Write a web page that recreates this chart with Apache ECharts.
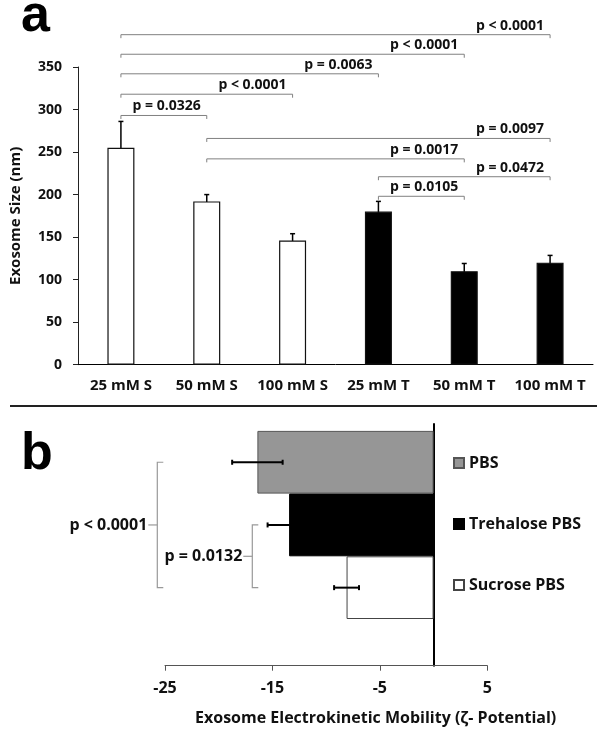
<!DOCTYPE html>
<html><head><meta charset="utf-8">
<script src="https://cdn.jsdelivr.net/npm/echarts@6/dist/echarts.min.js"></script>
<style>html,body{margin:0;padding:0;background:#fff}#c{width:604px;height:736px}</style>
</head><body><div id="c"></div>
<script>
// ---------- Panel a data ----------
const topCategories = ['25 mM S', '50 mM S', '100 mM S', '25 mM T', '50 mM T', '100 mM T'];
const topValues = [255, 192, 146, 180, 110, 120];
const topErrors = [31, 8, 8, 12, 9, 8.5];
const topBracketFrom = [0, 0, 0, 0, 0, 1, 1, 3, 3];
const topBracketTo = [5, 4, 3, 2, 1, 5, 4, 5, 4];
const topBracketLevel = [388, 365, 342, 318, 293, 266, 242, 221, 198];
const topBracketLabels = ['p < 0.0001', 'p < 0.0001', 'p = 0.0063', 'p < 0.0001', 'p = 0.0326',
  'p = 0.0097', 'p = 0.0017', 'p = 0.0472', 'p = 0.0105'];

// ---------- Panel b data ----------
const bottomSeriesNames = ['PBS', 'Trehalose PBS', 'Sucrose PBS'];
const bottomValues = [-16.4, -13.45, -8.1];
const bottomErrors = [2.35, 2.0, 1.16];
const bottomBracketFrom = [0, 1];
const bottomBracketTo = [2, 2];
const bottomBracketLabels = ['p < 0.0001', 'p = 0.0132'];
const bottomTicks = ['-25', '-15', '-5', '5'];

// ---------- styles ----------
const FONT = '"Open Sans", sans-serif';
const TXT = '#111';
const bottomFill = ['#969696', '#000000', '#ffffff'];
const bottomBorder = ['#555555', '#000000', '#444444'];
const bottomBracketX = [157.3, 252.3];

const chart = echarts.init(document.getElementById('c'), null, {renderer: 'canvas'});

const option = {
  animation: false,
  backgroundColor: '#fff',
  grid: [
    {left: 78, top: 67, width: 515, height: 297.7, outerBoundsMode: 'none', containLabel: false},
    {left: 165, top: 424, width: 322.3, height: 241.7, outerBoundsMode: 'none', containLabel: false}
  ],
  xAxis: [
    {type: 'category', gridIndex: 0, data: topCategories,
      axisLine: {show: true, lineStyle: {color: '#000', width: 1}},
      axisTick: {show: false}, splitLine: {show: false},
      axisLabel: {interval: 0, fontFamily: FONT, fontWeight: 'bold', fontSize: 15, color: TXT, margin: 14}},
    {type: 'value', gridIndex: 1, min: -25, max: 5, interval: 10,
      splitLine: {show: false},
      axisLine: {show: true, onZero: false, lineStyle: {color: '#555', width: 1}},
      axisTick: {show: true, length: 5, lineStyle: {color: '#555'}},
      axisLabel: {fontFamily: FONT, fontWeight: 'bold', fontSize: 16, color: TXT, margin: 15,
        formatter: function (v) { const s = String(v); return bottomTicks.indexOf(s) >= 0 ? s : ''; }},
      name: 'Exosome Electrokinetic Mobility (ζ- Potential)', nameLocation: 'middle', nameGap: 45,
      nameTextStyle: {fontFamily: FONT, fontWeight: 'bold', fontSize: 16, color: TXT, padding: [0, 0, 0, 99]}}
  ],
  yAxis: [
    {type: 'value', gridIndex: 0, min: 0, max: 350, interval: 50,
      splitLine: {show: false},
      axisLine: {show: true, lineStyle: {color: '#222', width: 1}},
      axisTick: {show: true, length: 5, lineStyle: {color: '#222'}},
      axisLabel: {fontFamily: FONT, fontWeight: 'bold', fontSize: 14, color: TXT, margin: 16},
      name: 'Exosome Size (nm)', nameLocation: 'middle', nameGap: 55, nameRotate: 90,
      nameTextStyle: {fontFamily: FONT, fontWeight: 'bold', fontSize: 15, color: TXT}},
    {type: 'category', gridIndex: 1, data: [''],
      axisLine: {show: true, onZero: true, lineStyle: {color: '#000', width: 2}},
      axisTick: {show: false}, axisLabel: {show: false}, splitLine: {show: false}}
  ],
  legend: {
    data: bottomSeriesNames, orient: 'vertical', left: 448, top: 450,
    itemWidth: 10, itemHeight: 10, itemGap: 45, icon: 'rect',
    textStyle: {fontFamily: FONT, fontWeight: 'bold', fontSize: 16, color: TXT}
  },
  series: [
    {type: 'bar', xAxisIndex: 0, yAxisIndex: 0, barWidth: 27,
      data: topValues.map((v, i) => ({value: v,
        itemStyle: {color: topCategories[i].slice(-1) === 'T' ? '#000' : '#fff'}})),
      itemStyle: {borderColor: '#111', borderWidth: 1.2}},
    {type: 'custom', xAxisIndex: 0, yAxisIndex: 0, clip: false,
      data: topValues.map((v, i) => [i, v, topErrors[i]]),
      encode: {x: 0, y: 1},
      renderItem: function (params, api) {
        const i = api.value(0), v = api.value(1), e = api.value(2);
        const hi = api.coord([i, v + e]);
        const lo = api.coord([i, v - e]);
        const st = {stroke: '#000', lineWidth: 1.5};
        return {type: 'group', children: [
          {type: 'line', shape: {x1: hi[0], y1: hi[1], x2: lo[0], y2: lo[1]}, style: st},
          {type: 'line', shape: {x1: hi[0] - 2.5, y1: hi[1], x2: hi[0] + 2.5, y2: hi[1]}, style: st},
          {type: 'line', shape: {x1: lo[0] - 2.5, y1: lo[1], x2: lo[0] + 2.5, y2: lo[1]}, style: st}
        ]};
      }},
    {type: 'custom', xAxisIndex: 0, yAxisIndex: 0, clip: false,
      data: topBracketFrom.map((f, k) => [f, topBracketTo[k], topBracketLevel[k], k]),
      encode: {x: [0, 1], y: 2},
      renderItem: function (params, api) {
        const p1 = api.coord([api.value(0), api.value(2)]);
        const p2 = api.coord([api.value(1), api.value(2)]);
        const k = api.value(3);
        return {type: 'group', children: [
          {type: 'polyline', shape: {points: [[p1[0], p1[1] + 3.5], [p1[0], p1[1]], [p2[0], p2[1]], [p2[0], p2[1] + 3.5]]},
            style: {stroke: '#808080', lineWidth: 1, fill: null}},
          {type: 'text', x: p2[0] - 6, y: p2[1] - 9,
            style: {text: topBracketLabels[k], font: 'bold 14px ' + FONT, fill: TXT, align: 'right', verticalAlign: 'middle'}}
        ]};
      }},
    ...bottomSeriesNames.map((n, i) => ({
      type: 'bar', name: n, xAxisIndex: 1, yAxisIndex: 1, data: [bottomValues[i]],
      barWidth: 62.7, barGap: '0%',
      itemStyle: {color: bottomFill[i], borderColor: bottomBorder[i], borderWidth: 1}
    })),
    {type: 'bar', name: 'spacer', xAxisIndex: 1, yAxisIndex: 1, data: [null], barWidth: 39.8, barGap: '0%', silent: true}
  ],
  graphic: [
    {type: 'text', x: 21, y: 17, style: {text: 'a', font: 'bold 52px "Liberation Sans", Arial, sans-serif', fill: '#000', verticalAlign: 'middle'}},
    {type: 'text', x: 21, y: 454.7, style: {text: 'b', font: 'bold 52px "Liberation Sans", Arial, sans-serif', fill: '#000', verticalAlign: 'middle'}},
    {type: 'line', shape: {x1: 10, y1: 406, x2: 597, y2: 406}, style: {stroke: '#222', lineWidth: 2}}
  ]
};
chart.setOption(option);

// ---------- panel b error bars & brackets from the library's own layout ----------
const model = chart.getModel();
function barCenterY(i) {
  const lay = model.getSeriesByIndex(3 + i).getData().getItemLayout(0);
  return lay.y + lay.height / 2;
}
const extra = [];
bottomValues.forEach((v, i) => {
  const y = barCenterY(i);
  const xl = chart.convertToPixel({xAxisIndex: 1}, v - bottomErrors[i]);
  const xr = chart.convertToPixel({xAxisIndex: 1}, v + bottomErrors[i]);
  const st = {stroke: '#000', lineWidth: 2};
  extra.push({type: 'line', shape: {x1: xl, y1: y, x2: xr, y2: y}, style: st, z: 10});
  extra.push({type: 'line', shape: {x1: xl, y1: y - 2.5, x2: xl, y2: y + 2.5}, style: st, z: 10});
  extra.push({type: 'line', shape: {x1: xr, y1: y - 2.5, x2: xr, y2: y + 2.5}, style: st, z: 10});
});
bottomBracketFrom.forEach((f, k) => {
  const y1 = barCenterY(f), y2 = barCenterY(bottomBracketTo[k]);
  const x = bottomBracketX[k], ym = (y1 + y2) / 2;
  const st = {stroke: '#999', lineWidth: 1.2, fill: null};
  extra.push({type: 'polyline', shape: {points: [[x + 6, y1], [x, y1], [x, y2], [x + 6, y2]]}, style: st});
  extra.push({type: 'line', shape: {x1: x, y1: ym, x2: x - 9, y2: ym}, style: st});
  extra.push({type: 'text', x: x - 10, y: ym, style: {text: bottomBracketLabels[k], font: 'bold 16px ' + FONT, fill: TXT, align: 'right', verticalAlign: 'middle'}});
});
chart.setOption({graphic: option.graphic.concat(extra)});
</script></body></html>
